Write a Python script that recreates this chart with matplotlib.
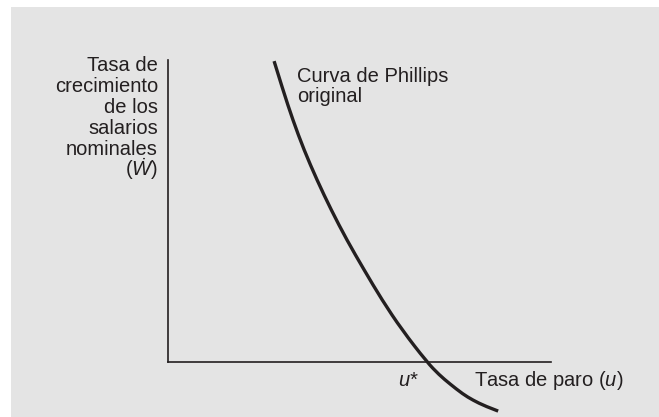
import matplotlib
matplotlib.use("Agg")
import matplotlib.pyplot as plt
from matplotlib.patches import Rectangle, PathPatch
from matplotlib.path import Path

plt.rcParams['font.family'] = ['Liberation Sans', 'DejaVu Sans']
plt.rcParams['mathtext.fontset'] = 'custom'
plt.rcParams['mathtext.rm'] = 'Liberation Sans'
plt.rcParams['mathtext.it'] = 'Liberation Sans:italic'

# original Phillips curve (u, W growth), axes span 0-10 by 0-8
u_vals = [2.77, 3.00, 3.26, 3.55, 3.89, 4.26, 4.67, 5.12, 5.59, 6.11, 6.76,
          7.08, 7.36, 7.70, 7.96, 8.28, 8.62]
w_vals = [7.97, 7.21, 6.41, 5.62, 4.82, 4.03, 3.23, 2.44, 1.64, 0.85, 0.00,
          -0.34, -0.58, -0.85, -1.01, -1.17, -1.30]

ylabel_lines = ["Tasa de", "crecimiento", "de los", "salarios", "nominales", r"($\dot{W}$)"]
curve_lines = ["Curva de Phillips", "original"]
xlabel = r"Tasa de paro ($u$)"

W, H = 659, 417
ink = '#231f20'
fsize = 14.5


def px(x, y):
    """pixel (from top-left) to figure fraction"""
    return x / W, 1 - y / H


def smooth_path(xs, ys):
    """quadratic bezier through midpoints, so the read points give a smooth stroke"""
    pts = list(zip(xs, ys))
    verts = [pts[0]]
    codes = [Path.MOVETO]
    for i in range(1, len(pts) - 1):
        if i < len(pts) - 2:
            end = ((pts[i][0] + pts[i + 1][0]) / 2, (pts[i][1] + pts[i + 1][1]) / 2)
        else:
            end = pts[-1]
        verts += [pts[i], end]
        codes += [Path.CURVE3, Path.CURVE3]
    return Path(verts, codes)


fig = plt.figure(figsize=(W / 100, H / 100), dpi=100)
fig.patch.set_facecolor('white')
# gray panel behind everything
fig.patches.append(Rectangle(px(11, 417), (W - 11) / W, (417 - 7) / H,
                             transform=fig.transFigure, facecolor='#e4e4e4',
                             edgecolor='none', zorder=-5))

ax = fig.add_axes([168 / W, 1 - 362 / H, 383 / W, 302 / H])
ax.set_zorder(2)
ax.set_facecolor('none')
ax.set_xlim(0, 10)
ax.set_ylim(0, 8)
for side in ['top', 'right']:
    ax.spines[side].set_visible(False)
for side in ['left', 'bottom']:
    ax.spines[side].set_color(ink)
    ax.spines[side].set_linewidth(1.2)
ax.set_xticks([])
ax.set_yticks([])

curve = PathPatch(smooth_path(u_vals, w_vals), facecolor='none', edgecolor=ink,
                  lw=2.4, clip_on=False, capstyle='butt')
ax.add_patch(curve)

# vertical axis label, right aligned
for i, line in enumerate(ylabel_lines):
    x, y = px(158, 71 + 21 * i)
    fig.text(x, y, line, ha='right', va='baseline', fontsize=fsize, color=ink)

for i, line in enumerate(curve_lines):
    x, y = px(297, 82 + 20 * i)
    fig.text(x, y, line, ha='left', va='baseline', fontsize=fsize, color=ink)

x, y = px(398, 386)
fig.text(x, y, "u*", ha='left', va='baseline', fontsize=fsize, color=ink, fontstyle='italic')
x, y = px(474, 386)
fig.text(x, y, xlabel, ha='left', va='baseline', fontsize=fsize, color=ink)

fig.savefig("out.png", dpi=100)
